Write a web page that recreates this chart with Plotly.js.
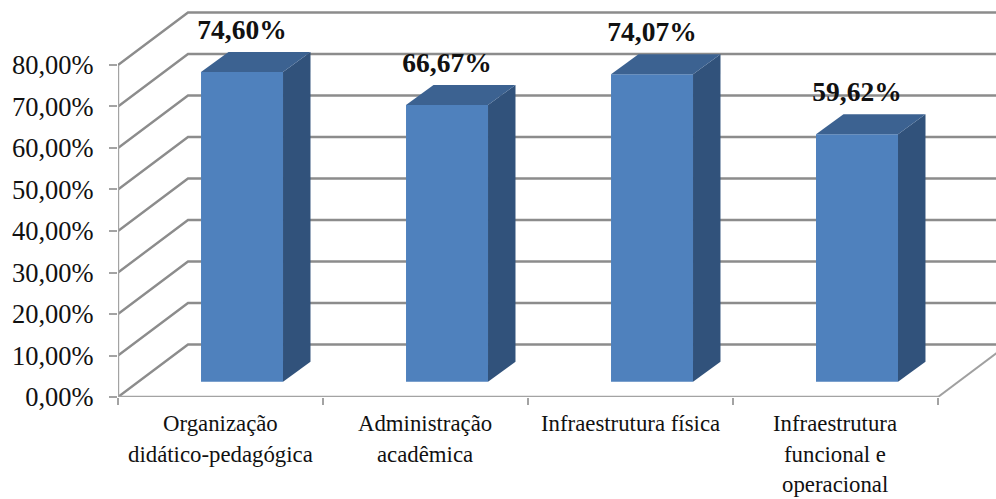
<!DOCTYPE html>
<html>
<head>
<meta charset="utf-8">
<script src="https://cdn.plot.ly/plotly-3.0.1.min.js"></script>
<style>html,body{margin:0;padding:0;background:#fff}#c{width:996px;height:499px}</style>
</head>
<body>
<div id="c"></div>
<script>
const categoryLines = [
  ["Organização", "didático-pedagógica"],
  ["Administração", "acadêmica"],
  ["Infraestrutura física"],
  ["Infraestrutura", "funcional e", "operacional"]
];
const values = [74.60, 66.67, 74.07, 59.62];
const yTicks = [0, 10, 20, 30, 40, 50, 60, 70, 80];

const fmt = v => v.toFixed(2).replace('.', ',') + '%';
const FONT = '"Liberation Serif", serif';

// oblique projection parameters, in axis units
const wallDX = 0.3415, wallDY = 12.65;
const barShiftX = 0.105, barBase = 3.69;
const barDX = 0.134, barDY = 4.82;
const barW = 0.40;
const xEnd = 4.283;

const centers = values.map((_, i) => i + 0.5 + barShiftX);

const shapes = yTicks.map(v => ({
  type: 'path', layer: 'below', xref: 'x', yref: 'y',
  path: `M0,${v} L${wallDX},${v + wallDY} L${xEnd},${v + wallDY}`,
  line: {color: '#8c8c8c', width: 2.4}
}));
shapes.push({
  type: 'line', layer: 'below', xref: 'x', yref: 'y',
  x0: 4, y0: 0, x1: 4 + wallDX, y1: wallDY,
  line: {color: '#a0a0a0', width: 2}
});

const traces = [];
traces.push({
  type: 'bar', x: centers, y: values, base: values.map(() => barBase), width: barW,
  marker: {color: '#4F81BD', line: {width: 0}}, hoverinfo: 'skip', showlegend: false
});
values.forEach((v, i) => {
  const l = centers[i] - barW / 2, r = centers[i] + barW / 2;
  const b = barBase, t = barBase + v;
  traces.push({
    type: 'scatter', mode: 'none', fill: 'toself', fillcolor: '#31527B',
    x: [r, r + barDX, r + barDX, r, r], y: [b, b + barDY, t + barDY, t, b],
    hoverinfo: 'skip', showlegend: false
  });
  traces.push({
    type: 'scatter', mode: 'none', fill: 'toself', fillcolor: '#3C6291',
    x: [l, l + barDX, r + barDX, r, l], y: [t, t + barDY, t + barDY, t, t],
    hoverinfo: 'skip', showlegend: false
  });
});
traces.push({
  type: 'scatter', mode: 'lines', cliponaxis: false,
  x: [0, 0, 4], y: [yTicks[yTicks.length - 1], 0, 0],
  line: {color: '#a3a3a3', width: 2.4}, hoverinfo: 'skip', showlegend: false
});
traces.push({
  type: 'scatter', mode: 'text', cliponaxis: false,
  x: centers, y: values.map(v => v + barBase + 9.6),
  text: values.map(fmt), textposition: 'middle center',
  textfont: {family: FONT, size: 27.5, color: '#111111', weight: 'bold'},
  hoverinfo: 'skip', showlegend: false
});

const annotations = [];
categoryLines.forEach((lines, i) => {
  lines.forEach((txt, j) => {
    annotations.push({
      xref: 'x', yref: 'paper', x: i + 0.5, y: -(26.5 + j * 30.5) / 387,
      text: txt, showarrow: false, xanchor: 'center', yanchor: 'middle',
      font: {family: FONT, size: 22.8, color: '#111111'}
    });
  });
});

Plotly.newPlot('c', traces, {
  width: 996, height: 499,
  margin: {l: 118, r: 0, t: 10, b: 102, pad: 0},
  paper_bgcolor: '#ffffff', plot_bgcolor: '#ffffff',
  showlegend: false,
  shapes, annotations,
  xaxis: {
    range: [0, xEnd], showgrid: false, zeroline: false, showline: false,
    showticklabels: false, ticks: '', tickvals: [],
    minor: {tickvals: [0, 1, 2, 3, 4], ticks: 'outside', ticklen: 7, tickwidth: 2, tickcolor: '#a3a3a3', showgrid: false}
  },
  yaxis: {
    range: [0, 93.25], showgrid: false, zeroline: false, showline: false,
    tickvals: yTicks, ticktext: yTicks.map(fmt),
    ticks: 'outside', ticklen: 8, tickwidth: 2, tickcolor: '#a3a3a3',
    ticklabelstandoff: 10,
    tickfont: {family: FONT, size: 26.5, color: '#111111'}
  }
}, {displayModeBar: false, staticPlot: true});
</script>
</body>
</html>
